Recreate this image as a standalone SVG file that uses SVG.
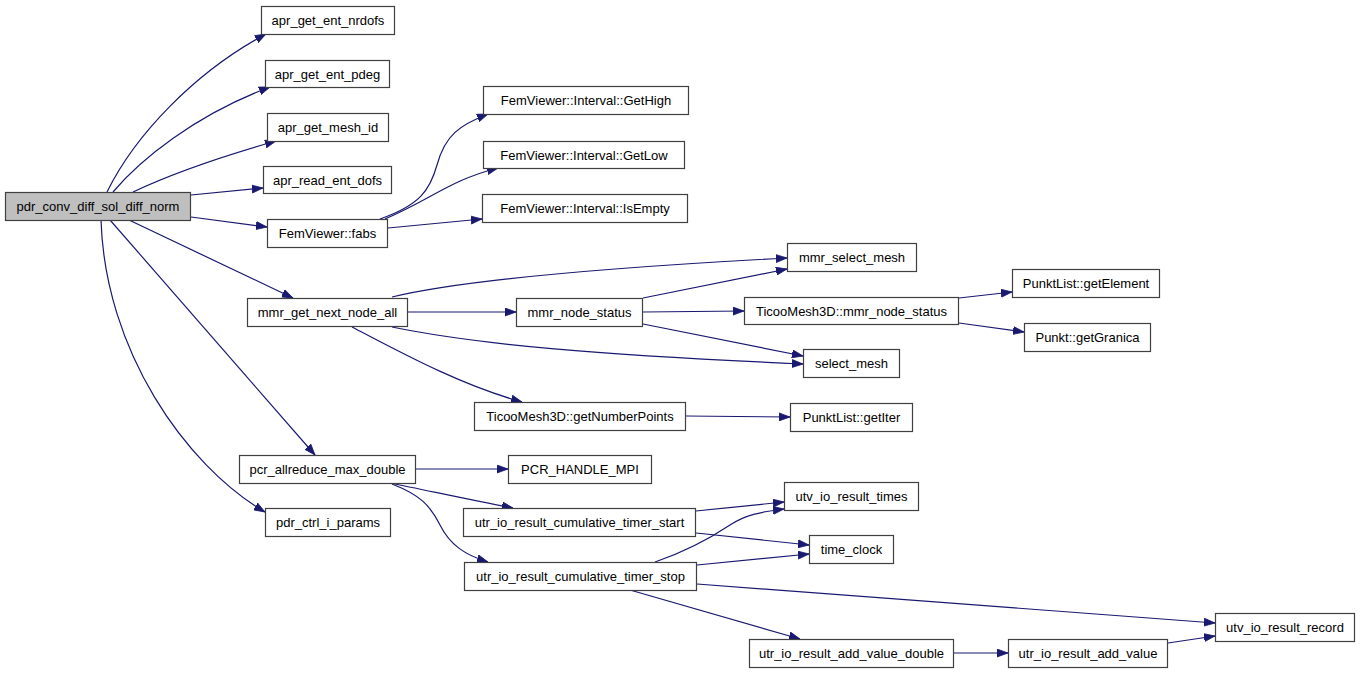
<svg xmlns="http://www.w3.org/2000/svg" width="1360" height="673" viewBox="0 0 1360 673">
<style>
.n rect{fill:#ffffff;stroke:#404040;stroke-width:1.2}
.n.main rect{fill:#bfbfbf}
.n text{font-family:"Liberation Sans",Arial,Helvetica,sans-serif;font-size:13px;fill:#000000;text-anchor:middle}
.e path{fill:none;stroke:#191970;stroke-width:1.2;marker-end:url(#ah)}
</style>
<defs>
<marker id="ah" markerUnits="userSpaceOnUse" markerWidth="12" markerHeight="9" refX="11" refY="4" orient="auto" viewBox="0 0 12 8">
<path d="M0,0 L11,4 L0,8 z" fill="#191970" stroke="#191970" stroke-width="0.8"/>
</marker>
</defs>
<rect width="1360" height="673" fill="#ffffff"/>
<g id="edges" class="e">
<path d="M107,192 C135,135 195,72 266,34"/>
<path d="M113,192 C140,160 195,115 270,87"/>
<path d="M133,192 C175,172 220,157 276,141"/>
<path d="M191,195 L263,188"/>
<path d="M191,217 L267,227"/>
<path d="M129,220 L293,298"/>
<path d="M110,220 L315,455"/>
<path d="M101,220 C105,350 185,465 265,512"/>
<path d="M380,219 C420,205 430,190 437,165 C445,135 460,125 488,114"/>
<path d="M385,219 C430,200 450,180 498,168"/>
<path d="M388,228 L482,219"/>
<path d="M392,297 C450,283 560,270 787,258"/>
<path d="M408,312 L516,312"/>
<path d="M392,327 C480,345 600,355 803,364"/>
<path d="M352,327 C400,352 460,385 522,402"/>
<path d="M643,298 L787,269"/>
<path d="M643,312 L744,311"/>
<path d="M643,324 L803,356"/>
<path d="M959,298 L1012,292"/>
<path d="M959,323 L1024,332"/>
<path d="M686,416 L790,417"/>
<path d="M416,469 L508,469"/>
<path d="M390,483 C430,491 470,500 513,508"/>
<path d="M392,484 C420,495 430,505 440,525 C450,545 465,555 488,562"/>
<path d="M696,511 L784,502"/>
<path d="M696,533 L809,545"/>
<path d="M655,562 C690,550 715,535 730,525 C745,515 760,512 784,509"/>
<path d="M697,565 L809,554"/>
<path d="M697,584 L1215,623"/>
<path d="M630,590 L800,639"/>
<path d="M954,653 L1008,653"/>
<path d="M1168,643 L1215,636"/>
</g>
<g id="n_pdr_conv_diff_sol_diff_norm" class="n main"><rect x="5.5" y="192.5" width="185" height="28"/><text x="98" y="211">pdr_conv_diff_sol_diff_norm</text></g>
<g id="n_apr_get_ent_nrdofs" class="n"><rect x="261.5" y="6.5" width="133" height="28"/><text x="328" y="25">apr_get_ent_nrdofs</text></g>
<g id="n_apr_get_ent_pdeg" class="n"><rect x="265.5" y="60.5" width="124" height="27"/><text x="327.5" y="78.5">apr_get_ent_pdeg</text></g>
<g id="n_apr_get_mesh_id" class="n"><rect x="267.5" y="113.5" width="121" height="28"/><text x="328" y="132">apr_get_mesh_id</text></g>
<g id="n_apr_read_ent_dofs" class="n"><rect x="263.5" y="166.5" width="128" height="27"/><text x="327.5" y="184.5">apr_read_ent_dofs</text></g>
<g id="n_fabs" class="n"><rect x="267.5" y="219.5" width="120" height="28"/><text x="327.5" y="238">FemViewer::fabs</text></g>
<g id="n_GetHigh" class="n"><rect x="483.5" y="86.5" width="205" height="28"/><text x="586" y="105">FemViewer::Interval::GetHigh</text></g>
<g id="n_GetLow" class="n"><rect x="483.5" y="141.5" width="201" height="27"/><text x="584" y="159.5">FemViewer::Interval::GetLow</text></g>
<g id="n_IsEmpty" class="n"><rect x="482.5" y="194.5" width="205" height="28"/><text x="585" y="213">FemViewer::Interval::IsEmpty</text></g>
<g id="n_mmr_get_next_node_all" class="n"><rect x="247.5" y="298.5" width="160" height="28"/><text x="327.5" y="317">mmr_get_next_node_all</text></g>
<g id="n_mmr_node_status" class="n"><rect x="516.5" y="298.5" width="126" height="28"/><text x="579.5" y="317">mmr_node_status</text></g>
<g id="n_getNumberPoints" class="n"><rect x="474.5" y="402.5" width="211" height="28"/><text x="580" y="421">TicooMesh3D::getNumberPoints</text></g>
<g id="n_mmr_select_mesh" class="n"><rect x="787.5" y="243.5" width="129" height="28"/><text x="852" y="262">mmr_select_mesh</text></g>
<g id="n_getElement" class="n"><rect x="1012.5" y="269.5" width="147" height="28"/><text x="1086" y="288">PunktList::getElement</text></g>
<g id="n_Ticoo_mmr_node_status" class="n"><rect x="744.5" y="297.5" width="214" height="27"/><text x="851.5" y="315.5">TicooMesh3D::mmr_node_status</text></g>
<g id="n_getGranica" class="n"><rect x="1024.5" y="323.5" width="126" height="28"/><text x="1087.5" y="342">Punkt::getGranica</text></g>
<g id="n_select_mesh" class="n"><rect x="803.5" y="349.5" width="96" height="28"/><text x="851.5" y="368">select_mesh</text></g>
<g id="n_getIter" class="n"><rect x="790.5" y="403.5" width="122" height="28"/><text x="851.5" y="422">PunktList::getIter</text></g>
<g id="n_pcr_allreduce_max_double" class="n"><rect x="239.5" y="455.5" width="176" height="28"/><text x="327.5" y="474">pcr_allreduce_max_double</text></g>
<g id="n_PCR_HANDLE_MPI" class="n"><rect x="508.5" y="455.5" width="143" height="28"/><text x="580" y="474">PCR_HANDLE_MPI</text></g>
<g id="n_pdr_ctrl_i_params" class="n"><rect x="265.5" y="508.5" width="125" height="28"/><text x="328" y="527">pdr_ctrl_i_params</text></g>
<g id="n_timer_start" class="n"><rect x="463.5" y="508.5" width="232" height="28"/><text x="579.5" y="527">utr_io_result_cumulative_timer_start</text></g>
<g id="n_timer_stop" class="n"><rect x="464.5" y="562.5" width="232" height="28"/><text x="580.5" y="581">utr_io_result_cumulative_timer_stop</text></g>
<g id="n_utv_io_result_times" class="n"><rect x="784.5" y="482.5" width="134" height="28"/><text x="851.5" y="501">utv_io_result_times</text></g>
<g id="n_time_clock" class="n"><rect x="809.5" y="535.5" width="84" height="28"/><text x="851.5" y="554">time_clock</text></g>
<g id="n_utv_io_result_record" class="n"><rect x="1215.5" y="613.5" width="139" height="28"/><text x="1285" y="632">utv_io_result_record</text></g>
<g id="n_add_value_double" class="n"><rect x="749.5" y="639.5" width="204" height="28"/><text x="851.5" y="658">utr_io_result_add_value_double</text></g>
<g id="n_add_value" class="n"><rect x="1008.5" y="639.5" width="159" height="28"/><text x="1088" y="658">utr_io_result_add_value</text></g>
</svg>
